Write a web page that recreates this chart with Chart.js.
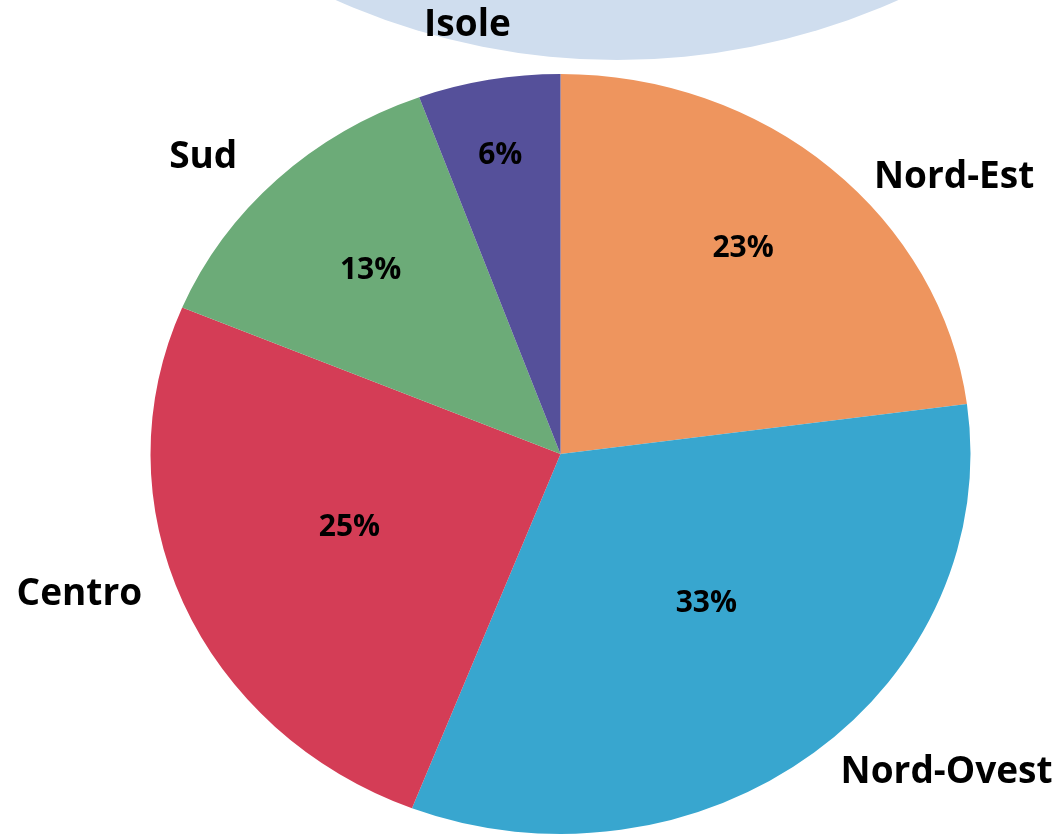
<!DOCTYPE html>
<html>
<head>
<meta charset="utf-8">
<script src="https://cdn.jsdelivr.net/npm/chart.js@4/dist/chart.umd.min.js"></script>
<style>
  html, body { margin: 0; padding: 0; background: #fff; }
  canvas { display: block; }
</style>
</head>
<body>
<canvas id="myChart" width="1060" height="836"></canvas>
<script>
const categories = ['Nord-Est', 'Nord-Ovest', 'Centro', 'Sud', 'Isole'];
const shares = [22.9, 33.0, 25.4, 13.1, 5.6];
const percentLabels = ['23%', '33%', '25%', '13%', '6%'];
const sliceColors = ['#EE955E', '#38A6CF', '#D43D56', '#6CAB78', '#55509A'];

// placement of the labels (fraction of radius, angle shift in degrees)
const innerRadius = [0.70, 0.53, 0.55, 0.67, 0.80];
const innerShift = [-1.7, -4, 2.4, 0, -0.5];
const outerRadius = [1.205, 1.26, 1.23, 1.17, 1.15];
const outerShift = [11.6, -10.2, 5.6, -4.4, -1.3];

const STRETCH_X = 410 / 380;   // the pie is a bit wider than tall

let myChart;

const ovalPlugin = {
  id: 'oval',
  beforeDraw(chart) {
    const ctx = chart.ctx;
    ctx.save();
    ctx.fillStyle = '#CFDDEE';
    ctx.beginPath();
    ctx.arc(617, -630, 690, 0, Math.PI * 2);
    ctx.fill();
    ctx.restore();
  },
  beforeDatasetsDraw(chart) {
    const arc = chart.getDatasetMeta(0).data[0];
    const ctx = chart.ctx;
    ctx.save();
    ctx.translate(arc.x, 0);
    ctx.scale(STRETCH_X, 1);
    ctx.translate(-arc.x, 0);
  },
  afterDatasetsDraw(chart) {
    chart.ctx.restore();
  },
  afterDraw(chart) {
    const ctx = chart.ctx;
    const arcs = chart.getDatasetMeta(0).data;
    ctx.save();
    ctx.fillStyle = '#000';
    ctx.textAlign = 'center';
    ctx.textBaseline = 'middle';
    arcs.forEach((a, i) => {
      const mid = (a.startAngle + a.endAngle) / 2;
      let ang = mid + innerShift[i] * Math.PI / 180;
      ctx.font = 'bold 30px "Open Sans"';
      ctx.fillText(percentLabels[i],
        a.x + Math.cos(ang) * a.outerRadius * innerRadius[i] * STRETCH_X,
        a.y + Math.sin(ang) * a.outerRadius * innerRadius[i]);
      ang = mid + outerShift[i] * Math.PI / 180;
      ctx.font = 'bold 37px "Open Sans"';
      ctx.fillText(categories[i],
        a.x + Math.cos(ang) * a.outerRadius * outerRadius[i] * STRETCH_X,
        a.y + Math.sin(ang) * a.outerRadius * outerRadius[i]);
    });
    ctx.restore();
  }
};

const setup = () => {
  const ctxt = document.getElementById('myChart').getContext('2d');
  myChart = new Chart(ctxt, {
    type: 'pie',
    data: {
      labels: categories,
      datasets: [{
        data: shares,
        backgroundColor: sliceColors,
        borderWidth: 0,
        hoverOffset: 0,
        offset: 0
      }]
    },
    options: {
      responsive: false,
      animation: false,
      events: [],
      layout: { padding: { top: 74, bottom: 2, left: 180, right: 119 } },
      plugins: {
        legend: { display: false },
        tooltip: { enabled: false }
      }
    },
    plugins: [ovalPlugin]
  });
};

window.addEventListener('DOMContentLoaded', setup);
</script>
</body>
</html>
